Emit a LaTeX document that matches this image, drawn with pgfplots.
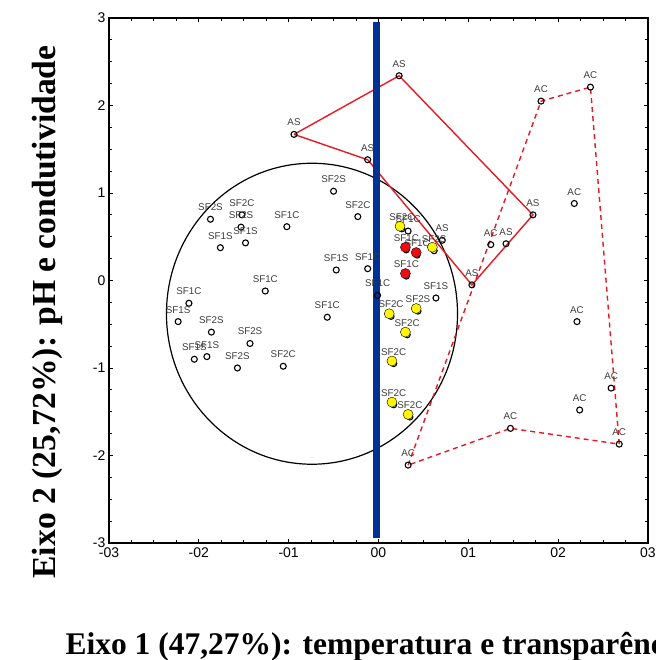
\documentclass[border=0pt]{standalone}
\usepackage{pgfplots}
\pgfplotsset{compat=1.18}
\usepackage{pgfplotstable}
\usepackage{fontspec}
\setmainfont{Liberation Serif}
\newfontfamily\arialf{Liberation Sans}

\definecolor{polyred}{RGB}{228,26,36}
\definecolor{dotred}{RGB}{238,12,20}
\definecolor{dotyellow}{RGB}{255,246,0}
\definecolor{axisblue}{RGB}{0,50,150}
\definecolor{labgray}{RGB}{60,60,60}

\pgfplotstableread{
x y lab
0.23 2.34 AS
-0.94 1.67 AS
-0.12 1.38 AS
1.72 0.75 AS
1.42 0.42 AS
1.04 -0.05 AS
0.71 0.46 AS
2.36 2.21 AC
1.81 2.05 AC
2.18 0.88 AC
2.21 -0.47 AC
2.59 -1.23 AC
2.24 -1.48 AC
1.47 -1.69 AC
2.68 -1.87 AC
1.25 0.41 AC
0.33 -2.11 AC
-0.50 1.02 SF2S
-0.23 0.73 SF2C
-1.87 0.70 SF2S
-1.52 0.75 SF2C
-1.53 0.61 SF2S
-1.48 0.43 SF1S
-1.76 0.375 SF1S
-1.02 0.615 SF1C
-0.47 0.12 SF1S
-0.12 0.135 SF1C
-1.26 -0.12 SF1C
-2.11 -0.26 SF1C
-2.23 -0.47 SF1S
-1.86 -0.59 SF2S
-1.43 -0.72 SF2S
-2.05 -0.90 SF1S
-1.91 -0.87 SF1S
-1.57 -1.00 SF2S
-1.06 -0.98 SF2C
-0.57 -0.42 SF1C
-0.01 -0.17 SF1C
0.26 0.59 SF2C
0.33 0.565 SF1C
0.31 0.35 SF1C
0.43 0.29 SF1C
0.62 0.34 SF2S
0.31 0.05 SF1C
0.64 -0.20 SF1S
0.14 -0.41 SF2C
0.44 -0.35 SF2S
0.32 -0.62 SF2C
0.17 -0.95 SF2C
0.17 -1.42 SF2C
0.35 -1.56 SF2C
}\allpts

\pgfplotstableread{
x y
0.24 0.62
0.60 0.38
0.12 -0.38
0.42 -0.32
0.30 -0.59
0.15 -0.92
0.15 -1.39
0.33 -1.53
}\yellowpts

\pgfplotstableread{
x y
0.30 0.38
0.42 0.32
0.30 0.08
}\redpts

\begin{document}
\begin{tikzpicture}
\begin{axis}[
  scale only axis, width=539pt, height=525pt,
  xmin=-3, xmax=3, ymin=-3, ymax=3,
  xtick={-3,-2,-1,0,1,2,3}, xticklabels={-03,-02,-01,00,01,02,03},
  ytick={-3,-2,-1,0,1,2,3}, yticklabels={-3,-2,-1,0,1,2,3},
  minor tick num=3,
  tick align=inside,
  major tick length=4pt, minor tick length=3pt,
  tick style={black, line width=0.8pt},
  axis line style={black, line width=1.3pt},
  ticklabel style={font=\arialf\fontsize{14}{14}\selectfont},
  xticklabel style={yshift=-1pt},
  /pgf/number format/assume math mode=true,
  clip=false,
]
\coordinate (bbsw) at (rel axis cs:-0.2022,-0.2229);
\coordinate (bbne) at (rel axis cs:1.0148,1.0343);

\draw[black, line width=1.2pt] (axis cs:-0.74,-0.38) ellipse [x radius=1.62, y radius=1.72];

\addplot[polyred, line width=1.4pt, mark=none] coordinates {
  (-0.94,1.67) (0.23,2.34) (1.72,0.75) (1.04,-0.05) (-0.12,1.38) (-0.94,1.67)};
\addplot[polyred, line width=1.4pt, dashed, dash pattern=on 5pt off 4pt, mark=none] coordinates {
  (0.33,-2.11) (1.81,2.05) (2.36,2.21) (2.68,-1.87) (1.47,-1.69) (0.33,-2.11)};

\addplot[only marks, mark=o, mark size=3pt, mark options={black, line width=1.1pt},
  nodes near coords, point meta=explicit symbolic,
  every node near coord/.append style={font=\arialf\fontsize{9.8}{9.8}\selectfont, text=labgray, anchor=base, inner sep=0pt, yshift=8.5pt}]
  table[x=x, y=y, meta=lab] {\allpts};

\addplot[only marks, mark=*, mark size=5pt, mark options={draw=none, fill=dotyellow}] table[x=x, y=y] {\yellowpts};
\addplot[only marks, mark=*, mark size=5pt, mark options={draw=none, fill=dotred}] table[x=x, y=y] {\redpts};

\addplot[axisblue, line width=7pt, line cap=butt, mark=none] coordinates {(-0.02,2.95) (-0.02,-2.94)};

\node[rotate=90, anchor=base, font=\bfseries\fontsize{33.6}{33.6}\selectfont] at (rel axis cs:-0.1000,0.44) {Eixo 2 (25,72\%): pH e condutividade};
\node[anchor=base west, font=\bfseries\fontsize{31.5}{31.5}\selectfont] at (rel axis cs:-0.0870,-0.2133) {Eixo 1 (47,27\%): temperatura e transparência};
\end{axis}
\pgfresetboundingbox
\path[use as bounding box] (bbsw) rectangle (bbne);
\end{tikzpicture}
\end{document}
